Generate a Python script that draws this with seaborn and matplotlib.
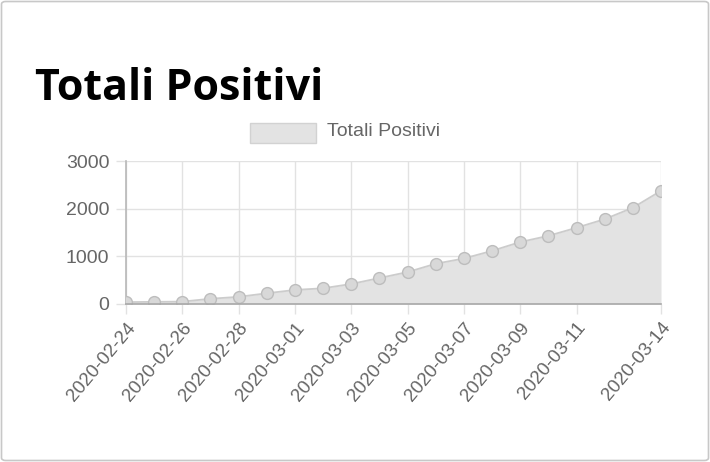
import matplotlib
matplotlib.use("Agg")
import matplotlib.pyplot as plt
import seaborn as sns
import pandas as pd
from matplotlib.patches import FancyBboxPatch, Rectangle

dates = ["2020-02-24", "2020-02-25", "2020-02-26", "2020-02-27", "2020-02-28",
         "2020-02-29", "2020-03-01", "2020-03-02", "2020-03-03", "2020-03-04",
         "2020-03-05", "2020-03-06", "2020-03-07", "2020-03-08", "2020-03-09",
         "2020-03-10", "2020-03-11", "2020-03-12", "2020-03-13", "2020-03-14"]
totali_positivi = [40, 45, 50, 110, 150, 225, 295, 330, 420, 545,
                   670, 845, 955, 1115, 1300, 1430, 1600, 1780, 2020, 2375]
tick_labels = ["2020-02-24", "2020-02-26", "2020-02-28", "2020-03-01", "2020-03-03",
               "2020-03-05", "2020-03-07", "2020-03-09", "2020-03-11", "2020-03-14"]
y_ticks = [0, 1000, 2000, 3000]
title = "Totali Positivi"
series_name = "Totali Positivi"

df = pd.DataFrame({"idx": range(len(dates)), "date": dates, "value": totali_positivi})

sns.set_theme(style="white")
plt.rcParams["font.family"] = ["Liberation Sans", "DejaVu Sans"]

W, H = 710, 462
fig = plt.figure(figsize=(W / 100, H / 100), dpi=100)

# card border
card = FancyBboxPatch((1.5 / W, 1.5 / H), (W - 3) / W, (H - 3) / H,
                      boxstyle="round,pad=0,rounding_size=0.006",
                      transform=fig.transFigure, facecolor="white",
                      edgecolor="#c8c8c8", linewidth=1.2, zorder=-10)
fig.patches.append(card)

left, right, top, bottom = 126, 661, 161, 304
ax = fig.add_axes([left / W, 1 - bottom / H, (right - left) / W, (bottom - top) / H])
ax.set_facecolor("none")
ax.set_zorder(2)

grid_c = "#e2e2e2"
ax.fill_between(df["idx"], 0, df["value"], color="#e3e3e3", zorder=1, linewidth=0)
sns.lineplot(data=df, x="idx", y="value", ax=ax, color="#cccccc", linewidth=1.3,
             marker="o", markersize=8.5, markerfacecolor="#d8d8d8",
             markeredgecolor="#bdbdbd", markeredgewidth=1.0, zorder=3)

ax.set_xlim(0, len(dates) - 1)
ax.set_ylim(0, 3000)
tick_pos = [dates.index(t) for t in tick_labels]
ax.set_xticks(tick_pos)
ax.set_xticklabels(tick_labels, rotation=50, ha="right", rotation_mode="anchor",
                   fontsize=13.5, color="#666666")
ax.set_yticks(y_ticks)
ax.set_yticklabels([str(v) for v in y_ticks], fontsize=14, color="#666666")
ax.set_xlabel("")
ax.set_ylabel("")

ax.grid(True, color=grid_c, linewidth=1.0, zorder=0)
ax.set_axisbelow(True)
ax.tick_params(axis="both", which="both", length=7, color=grid_c, width=1.0,
               bottom=True, left=True)
ax.tick_params(axis="y", pad=5)
ax.tick_params(axis="x", pad=4)
for s in ["top", "right"]:
    ax.spines[s].set_visible(False)
ax.spines["bottom"].set_color("#a8a8a8")
ax.spines["left"].set_color("#b8b8b8")
ax.spines["bottom"].set_linewidth(1.2)
ax.spines["left"].set_linewidth(1.2)
ax.spines["bottom"].set_zorder(4)

# title
fig.text(35 / W, 1 - 100 / H, title, fontsize=31, fontweight="bold",
         family=["Open Sans", "DejaVu Sans"], color="black", ha="left", va="baseline")

# legend
fig.patches.append(Rectangle((250 / W, 1 - 143 / H), 66 / W, 20 / H,
                             transform=fig.transFigure, facecolor="#e3e3e3",
                             edgecolor="#d2d2d2", linewidth=1.0))
fig.text(327 / W, 1 - 132 / H, series_name, fontsize=14, color="#666666",
         ha="left", va="center")

fig.savefig("out.png", dpi=100)
